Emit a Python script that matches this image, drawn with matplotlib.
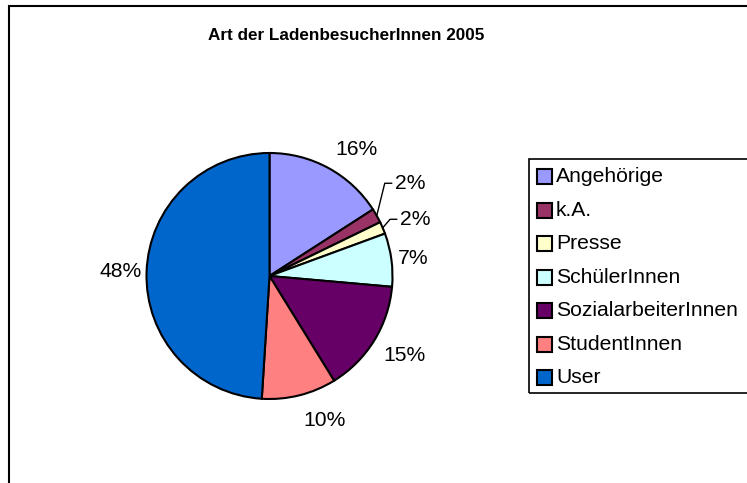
import matplotlib
matplotlib.use('Agg')
import matplotlib.pyplot as plt
import numpy as np
from matplotlib.patches import Rectangle

plt.rcParams['font.family'] = ['Liberation Sans', 'DejaVu Sans']

# ---- data ----
title = 'Art der LadenbesucherInnen 2005'
categories = ['Angehörige', 'k.A.', 'Presse', 'SchülerInnen',
              'SozialarbeiterInnen', 'StudentInnen', 'User']
shares = [15.9, 1.9, 1.6, 7.0, 14.8, 9.8, 49.0]
pct_labels = ['16%', '2%', '2%', '7%', '15%', '10%', '48%']
colors = ['#9999FF', '#993366', '#FFFFCC', '#CCFFFF', '#660066', '#FF8080', '#0066CC']

# ---- layout ----
W, H = 747, 483
fig = plt.figure(figsize=(W / 100, H / 100), dpi=100)


def fx(px):
    return px / W


def fy(py):
    return 1 - py / H


# chart frame (extends past right/bottom edge like the cropped original)
fig.patches.append(Rectangle((fx(9), fy(700)), 2.0, (700 - 6) / H,
                             transform=fig.transFigure, fill=False,
                             ec='black', lw=1.5, clip_on=False))

fig.text(fx(346), fy(35), title, ha='center', va='center',
         fontsize=12.3, fontweight='bold')

cx, cy, r = 269.5, 276, 123
ax = fig.add_axes([fx(cx - r), fy(cy + r), 2 * r / W, 2 * r / H])
wedges, _ = ax.pie(shares, colors=colors, startangle=90, counterclock=False,
                   radius=1, wedgeprops=dict(edgecolor='black', linewidth=1.5))
ax.set_xlim(-1, 1)
ax.set_ylim(-1, 1)
ax.set_aspect('equal')
ax.axis('off')

total = float(sum(shares))
cum = np.cumsum([0] + shares[:-1])
label_fs = 15.2
small_layout = {1: ((0.937, 0.754), (0.993, 0.754), (1.02, 0.754)),
                2: ((0.980, 0.461), (1.034, 0.461), (1.06, 0.461))}
for i, (s, c0) in enumerate(zip(shares, cum)):
    mid = (c0 + s / 2) / total * 2 * np.pi  # clockwise from top
    sx, sy = np.sin(mid), np.cos(mid)
    if i in small_layout:
        elbow, end, tpos = small_layout[i]
        ax.plot([sx, elbow[0], end[0]], [sy, elbow[1], end[1]],
                color='black', lw=1, clip_on=False)
        ax.text(tpos[0], tpos[1], pct_labels[i], ha='left', va='center',
                fontsize=label_fs, clip_on=False)
        continue
    d = 1.04 + 0.09 * abs(sy)
    px, py = d * sx, d * sy
    ha = 'left' if sx > 0.2 else ('right' if sx < -0.2 else 'center')
    va = 'baseline' if sy > 0.35 else ('top' if sy < -0.35 else 'center')
    ax.text(px, py, pct_labels[i], ha=ha, va=va, fontsize=label_fs,
            clip_on=False)

# legend (drawn manually, Excel style, clipped at right edge)
lx0, ly0, ly1 = 529, 159, 393
fig.patches.append(Rectangle((fx(lx0), fy(ly1)), 1.0, (ly1 - ly0) / H,
                             transform=fig.transFigure, fill=False,
                             ec='black', lw=1.2, clip_on=False))
row0, step = 176.7, 33.5
for i, (cat, col) in enumerate(zip(categories, colors)):
    yc = row0 + i * step
    fig.patches.append(Rectangle((fx(537), fy(yc + 7.5)), 15 / W, 15 / H,
                                 transform=fig.transFigure, fc=col,
                                 ec='black', lw=1.5))
    fig.text(fx(556), fy(yc), cat, ha='left', va='center', fontsize=label_fs)

fig.savefig('out.png', dpi=100)
